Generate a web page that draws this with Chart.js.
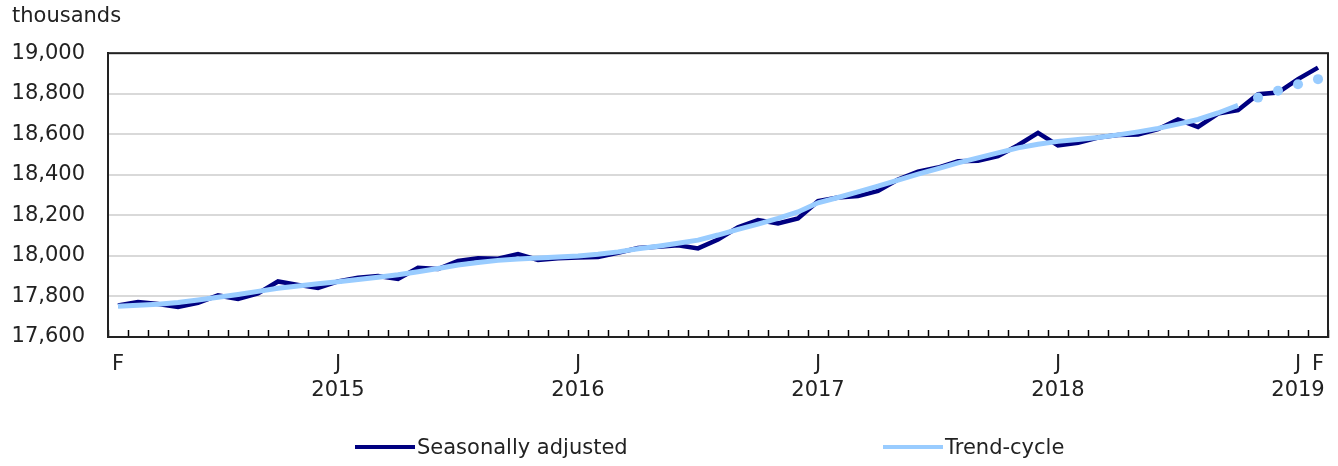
<!DOCTYPE html>
<html>
<head>
<meta charset="utf-8">
<script src="https://cdn.jsdelivr.net/npm/chart.js@4.4.1/dist/chart.umd.min.js"></script>
<style>
    body { margin: 0; background: #fff; }
    #wrap { position: relative; width: 1338px; height: 466px; }
    .legend-item { position: absolute; top: 435px; font: 21px "DejaVu Sans"; color: #222; display: flex; align-items: center; white-space: nowrap; }
    .legend-item span { display: inline-block; width: 60px; height: 4px; margin-right: 2px; }
</style>
</head>
<body>
<div id="wrap">
    <canvas id="myChart"></canvas>
    <div class="legend-item" style="left:355px"><span style="background:#000080"></span>Seasonally adjusted</div>
    <div class="legend-item" style="left:883px"><span style="background:#99ccff"></span>Trend-cycle</div>
</div>
<script>
// Monthly categories, February 2014 to February 2019
const categories = [];
for (let y = 2014; y <= 2019; y++) {
    for (let m = 1; m <= 12; m++) {
        if ((y === 2014 && m < 2) || (y === 2019 && m > 2)) continue;
        categories.push(y + '-' + String(m).padStart(2, '0'));
    }
}

// Tick labels shown under the x axis
const tickLabels = {
    '2014-02': 'F',
    '2015-01': ['J', '2015'],
    '2016-01': ['J', '2016'],
    '2017-01': ['J', '2017'],
    '2018-01': ['J', '2018'],
    '2019-01': ['J', '2019'],
    '2019-02': 'F'
};

// Seasonally adjusted (thousands)
const seasonallyAdjusted = [
    17755, 17772, 17763, 17748, 17769, 17805, 17788, 17815, 17874, 17857, 17842,          // 2014
    17874, 17892, 17901, 17886, 17942, 17935, 17975, 17989, 17986, 18009, 17980, 17988,   // 2015
    17992, 17995, 18015, 18039, 18045, 18052, 18037, 18081, 18141, 18177, 18160, 18185,   // 2016
    18270, 18288, 18295, 18321, 18377, 18415, 18436, 18467, 18469, 18492, 18546, 18607,   // 2017
    18545, 18558, 18584, 18596, 18599, 18625, 18673, 18636, 18702, 18719, 18798, 18806,   // 2018
    18872, 18929                                                                          // 2019
];

// Trend-cycle (thousands); last four months are shown as dots only
const trendCycle = [
    17752, 17757, 17762, 17770, 17782, 17796, 17810, 17825, 17840, 17852, 17863,
    17873, 17884, 17895, 17907, 17922, 17938, 17955, 17968, 17978, 17985, 17990, 17995,
    18000, 18008, 18020, 18035, 18048, 18062, 18078, 18103, 18131, 18157, 18185, 18217,
    18262, 18288, 18316, 18344, 18374, 18403, 18431, 18459, 18484, 18508, 18533, 18551,
    18565, 18574, 18584, 18597, 18612, 18629, 18650, 18673, 18705, 18743, 18781, 18815,
    18847, 18872
];
const trendDotsFrom = 57; // Nov 2018 onward

Chart.defaults.font.family = '"DejaVu Sans", Verdana, sans-serif';
Chart.defaults.font.size = 21;
Chart.defaults.color = '#222';

// black frame round the plot area
const frame = {
    id: 'frame',
    afterDraw(chart) {
        const { ctx, chartArea: a } = chart;
        ctx.save();
        ctx.strokeStyle = '#222';
        ctx.lineWidth = 2;
        ctx.strokeRect(a.left, a.top, a.right - a.left, a.bottom - a.top);
        ctx.restore();
    }
};

const ctx = document.getElementById('myChart').getContext('2d');
const myChart = new Chart(ctx, {
    type: 'line',
    data: {
        labels: categories,
        datasets: [{
            label: 'Seasonally adjusted',
            data: seasonallyAdjusted,
            borderColor: '#000080',
            backgroundColor: '#000080',
            borderWidth: 4.5,
            pointRadius: 0,
            tension: 0,
            order: 2
        }, {
            label: 'Trend-cycle',
            data: trendCycle,
            borderColor: '#99ccff',
            backgroundColor: '#99ccff',
            borderWidth: 5,
            pointRadius: c => c.dataIndex >= trendDotsFrom ? 5 : 0,
            pointBorderWidth: 0,
            pointBackgroundColor: '#99ccff',
            tension: 0,
            segment: {
                borderColor: c => c.p1DataIndex >= trendDotsFrom ? 'rgba(0,0,0,0)' : undefined
            },
            order: 1
        }]
    },
    options: {
        responsive: true,
        maintainAspectRatio: false,
        animation: false,
        layout: { padding: { left: 12, right: 10, top: 0, bottom: 0 } },
        plugins: {
            legend: { display: false },
            tooltip: { enabled: false },
            title: {
                display: true,
                text: 'thousands',
                align: 'start',
                color: '#222',
                font: { size: 21, weight: 'normal' },
                padding: { top: 4, bottom: 24 }
            }
        },
        scales: {
            x: {
                offset: true,
                grid: { offset: true, drawOnChartArea: false, drawTicks: true, tickLength: -7, tickColor: '#000', tickWidth: 1.5 },
                border: { display: true, color: '#000', width: 2 },
                ticks: {
                    autoSkip: false,
                    maxRotation: 0,
                    padding: 21,
                    color: '#222',
                    font: { size: 21, lineHeight: 1.25 },
                    callback: (v, i) => tickLabels[categories[i]] || ''
                },
                afterFit: s => {
                    s.height = 129;
                    // labels sit inside the offset band, no extra side room needed
                    s.paddingLeft = 0;
                    s.paddingRight = 0;
                }
            },
            y: {
                min: 17600,
                max: 19000,
                ticks: {
                    stepSize: 200,
                    padding: 23,
                    color: '#222',
                    font: { size: 21 },
                    callback: v => v.toLocaleString('en-US')
                },
                grid: { color: '#d9d9d9', lineWidth: 2, drawTicks: false },
                border: { color: '#000', width: 2 },
                afterFit: s => { s.width = 96; }
            }
        }
    },
    plugins: [frame]
});
</script>
</body>
</html>
